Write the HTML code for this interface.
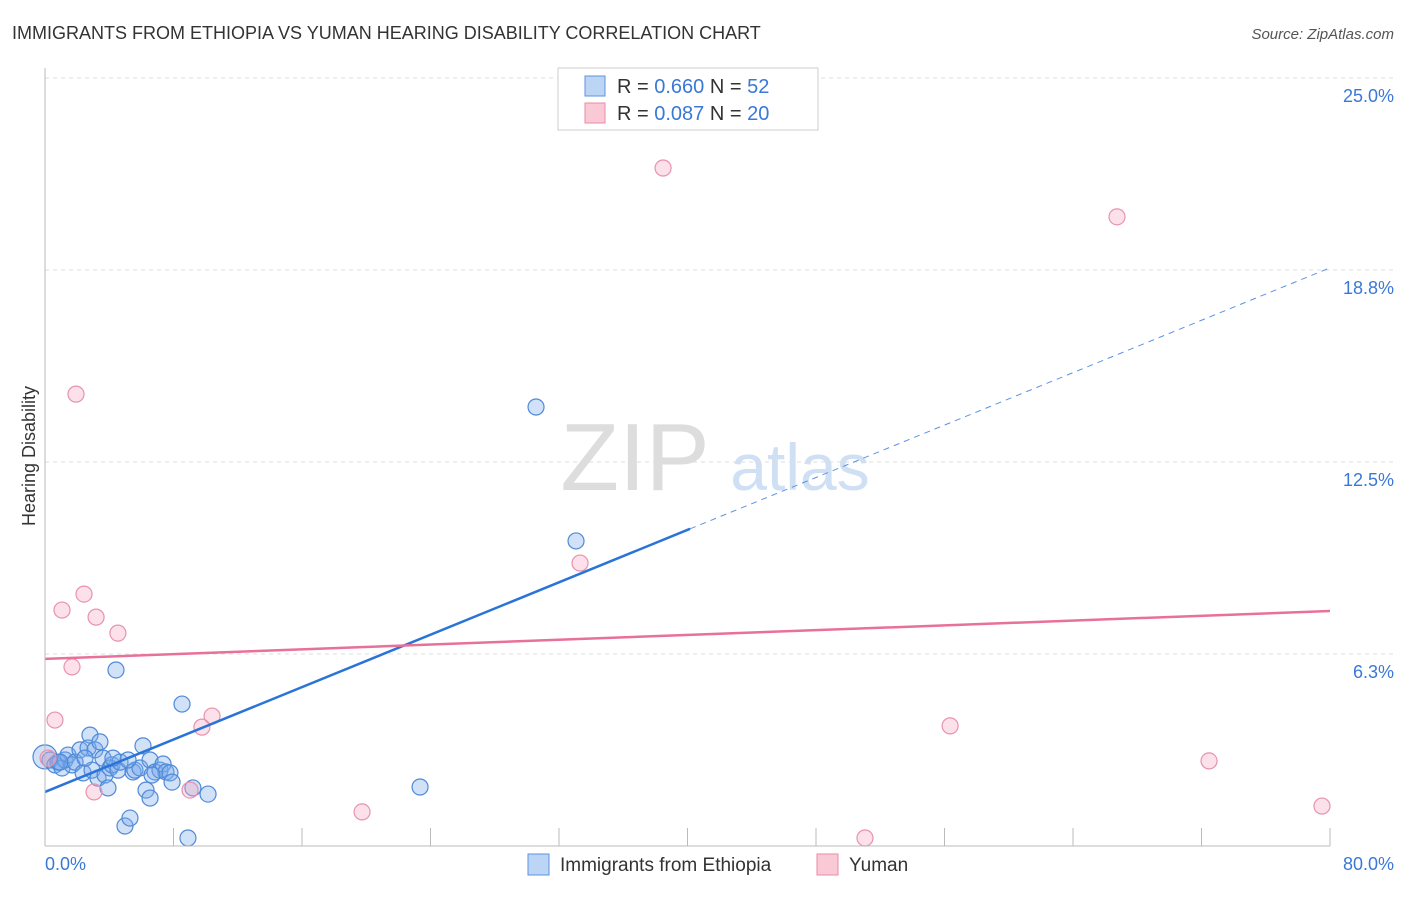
<!DOCTYPE html>
<html><head><meta charset="utf-8"><style>
body{margin:0;background:#fff;font-family:"Liberation Sans",sans-serif}
svg text{font-family:"Liberation Sans",sans-serif}
</style></head><body>
<svg id="c" width="1406" height="892" viewBox="0 0 1406 892">
<text x="12" y="39" font-size="18" fill="#333">IMMIGRANTS FROM ETHIOPIA VS YUMAN HEARING DISABILITY CORRELATION CHART</text>
<text x="1394" y="39" font-size="15" fill="#555" text-anchor="end" font-style="italic">Source: ZipAtlas.com</text>
<text x="35" y="456" font-size="18" fill="#333" text-anchor="middle" transform="rotate(-90 35 456)">Hearing Disability</text>
<g><text x="635" y="490" font-size="96" fill="#ddd" text-anchor="middle" font-family="Liberation Serif,serif">ZIP</text><text x="800" y="490" font-size="66" fill="#cfe0f5" text-anchor="middle">atlas</text></g>
<g id="grid"></g><g id="marks"></g>
<line x1="45" y1="68" x2="45" y2="846" stroke="#bbb"/>
<line x1="45" y1="846" x2="1330" y2="846" stroke="#bbb"/>
<text x="45" y="870" font-size="18" fill="#3a78d8">0.0%</text>
<text x="1394" y="870" font-size="18" fill="#3a78d8" text-anchor="end">80.0%</text>
<g>
<rect x="558" y="68" width="260" height="62" fill="#fff" stroke="#ccc"/>
<rect x="585" y="76" width="20" height="20" fill="#bcd5f5" stroke="#5b93e0"/>
<rect x="585" y="103" width="20" height="20" fill="#f9cad6" stroke="#e98aa6"/>
<text x="617" y="93" font-size="20" fill="#333">R = <tspan fill="#3a78d8">0.660</tspan>   N = <tspan fill="#3a78d8">52</tspan></text>
<text x="617" y="120" font-size="20" fill="#333">R = <tspan fill="#3a78d8">0.087</tspan>   N = <tspan fill="#3a78d8">20</tspan></text>
</g>
<g>
<rect x="528" y="854" width="21" height="21" fill="#bcd5f5" stroke="#5b93e0"/>
<text x="560" y="871" font-size="19" fill="#333">Immigrants from Ethiopia</text>
<rect x="817" y="854" width="21" height="21" fill="#f9cad6" stroke="#e98aa6"/>
<text x="849" y="871" font-size="19" fill="#333">Yuman</text>
</g>
</svg>
<script>
const yTicks=[6.25,12.5,18.75,25];
const yTickLabels=["6.3%","12.5%","18.8%","25.0%"];
const xTicks=[8,16,24,32,40,48,56,64,72,80];
const blueX=[0,0.31,0.62,0.81,1.06,1.25,1.43,1.68,1.87,2.18,2.37,2.68,2.80,2.93,3.11,3.30,3.42,3.61,3.74,3.92,4.05,4.17,4.54,4.67,4.98,5.29,5.48,5.60,5.91,6.10,6.29,6.54,6.54,6.85,7.16,7.35,7.53,7.78,7.91,8.53,8.90,9.21,10.15,4.42,23.35,30.57,33.06,0.93,2.49,5.17,6.66,4.23];
const blueY=[2.90,2.80,2.64,2.73,2.54,2.80,2.96,2.64,2.73,3.13,2.38,3.19,3.61,2.47,3.13,2.21,3.39,2.86,2.31,1.89,2.54,2.64,2.47,2.73,0.65,0.91,2.41,2.47,2.54,3.26,1.82,1.56,2.80,2.41,2.47,2.67,2.41,2.38,2.08,4.62,0.26,1.89,1.69,5.73,1.92,14.29,9.93,2.73,2.86,2.80,2.31,2.86];
const pinkX=[0.19,1.06,1.68,0.62,1.93,2.43,3.18,4.54,3.05,9.03,9.77,10.40,19.74,33.31,38.48,51.05,56.35,66.74,72.47,79.50];
const pinkY=[2.86,7.68,5.83,4.10,14.71,8.20,7.45,6.93,1.76,1.82,3.87,4.23,1.11,9.21,22.07,0.26,3.91,20.48,2.77,1.30];
const blueTrend=[1.76,18.82]; const blueSolidEnd=40.16;
const pinkTrend=[6.09,7.65];
const NS="http://www.w3.org/2000/svg";
const X=v=>45+v/80*1285, Y=v=>846-v*30.72;
function mk(p,t,a){const e=document.createElementNS(NS,t);for(const k in a)e.setAttribute(k,a[k]);p.appendChild(e);return e;}
const g=document.getElementById('grid'),m=document.getElementById('marks');
yTicks.forEach((v,i)=>{
 const l=mk(g,'line',{x1:45,x2:1394,y1:Y(v),y2:Y(v),stroke:'#ddd','stroke-dasharray':'4,4'});
 
 
 const t=mk(g,'text',{x:1394,y:Y(v)+24,'font-size':18,fill:'#3a78d8','text-anchor':'end'});t.textContent=yTickLabels[i];
 
 
});
xTicks.forEach(v=>{
 const l=mk(g,'line',{x1:X(v),x2:X(v),y1:828,y2:846,stroke:'#bbb'});
 
 
});
blueX.forEach((x,i)=>{
 const c=mk(m,'circle',{cx:X(x),cy:Y(blueY[i]),r:i==0?12:8,fill:'rgba(120,170,235,0.35)',stroke:'#4f8ad8','stroke-width':1.2});
 
 
});
pinkX.forEach((x,i)=>{
 const c=mk(m,'circle',{cx:X(x),cy:Y(pinkY[i]),r:8,fill:'rgba(245,170,195,0.35)',stroke:'#e892ae','stroke-width':1.2});
 
 
});
const by=x=>blueTrend[0]+(blueTrend[1]-blueTrend[0])*x/80;
let l1=mk(m,'line',{x1:X(0),y1:Y(by(0)),x2:X(blueSolidEnd),y2:Y(by(blueSolidEnd)),stroke:'#2a74d8','stroke-width':2.5});


let l2=mk(m,'line',{x1:X(blueSolidEnd),y1:Y(by(blueSolidEnd)),x2:X(80),y2:Y(by(80)),stroke:'#5b93e0','stroke-width':1,'stroke-dasharray':'6,5'});


let l3=mk(m,'line',{x1:X(0),y1:Y(pinkTrend[0]),x2:X(80),y2:Y(pinkTrend[1]),stroke:'#e8709a','stroke-width':2.5});


</script>
</body></html>
